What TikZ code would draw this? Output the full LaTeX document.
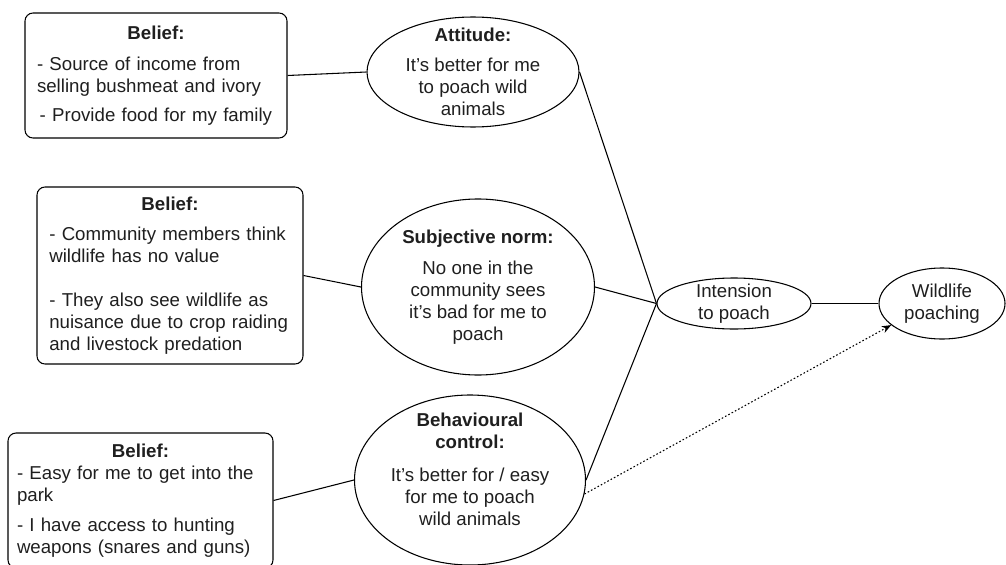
\documentclass[tikz,border=0pt]{standalone}
\usepackage{fontspec}
\setmainfont{Liberation Sans}
\usetikzlibrary{shapes.geometric}
\usetikzlibrary{arrows.meta}

\begin{document}
\begin{tikzpicture}[x=0.75pt,y=-0.75pt,
  every node/.style={font=\fontsize{14pt}{16.5pt}\selectfont,text=black!88},
  belief/.style={draw,rounded corners=6pt,line width=0.8pt,align=left,inner ysep=0pt},
  construct/.style={draw,ellipse,line width=0.8pt,align=center,inner sep=-12pt},
  link/.style={line width=0.8pt},
  cue/.style={line width=0.8pt,dash pattern=on 1.2pt off 1.6pt,-{Stealth[length=7pt,width=5.5pt]}}]
\useasboundingbox (0,0) rectangle (1006,564);

% beliefs
\node[belief,inner xsep=9pt,text width=178.5pt,minimum height=93.75pt] (b1) at (156,75.5)
  {{\centering\bfseries Belief:\par}\vspace{7pt}- Source of income from\\selling bushmeat and ivory\\[5pt]\hspace*{2pt}- Provide food for my family};
\node[belief,inner xsep=9.25pt,text width=181pt,minimum height=132.75pt] (b2) at (170,275.5)
  {{\centering\bfseries Belief:\par}\vspace{6pt}- Community members think\\wildlife has no value\\[16.5pt]- They also see wildlife as\\nuisance due to crop raiding\\and livestock predation};
\node[belief,inner xsep=6.75pt,text width=185.25pt,minimum height=101.25pt] (b3) at (140.5,500.5)
  {{\centering\bfseries Belief:\par}- Easy for me to get into the\\park\\[6pt]- I have access to hunting\\weapons (snares and guns)};

% constructs
\node[construct,minimum width=159pt,minimum height=82.5pt] (att) at (473,72)
  {{\bfseries Attitude:}\\[6pt]It’s better for me\\to poach wild\\animals};
\node[construct,minimum width=174.75pt,minimum height=132pt] (subj) at (478,287)
  {{\bfseries Subjective norm:}\\[7pt]No one in the\\community sees\\it’s bad for me to\\poach};
\node[construct,minimum width=173.25pt,minimum height=127.5pt] (beh) at (470,480)
  {{\bfseries Behavioural}\\{\bfseries control:}\\[8pt]It’s better for / easy\\for me to poach\\wild animals\\\mbox{}};
\node[construct,minimum width=115.5pt,minimum height=38.25pt] (int) at (734,303.5)
  {Intension\\to poach};
\node[construct,minimum width=94.5pt,minimum height=53.25pt] (wild) at (942,303.5)
  {Wildlife\\poaching};

\draw[link] (b1.east) -- (att.west);
\draw[link] (b2.east) -- (subj.west);
\draw[link] (b3.east) -- (beh.west);
\draw[link] (att.east) -- (int.west);
\draw[link] (subj.east) -- (int.west);
\draw[link] (beh.east) -- (int.west);
\draw[link] (int.east) -- (wild.west);
\draw[cue] (beh.-7) -- (wild.203);
\end{tikzpicture}
\end{document}
